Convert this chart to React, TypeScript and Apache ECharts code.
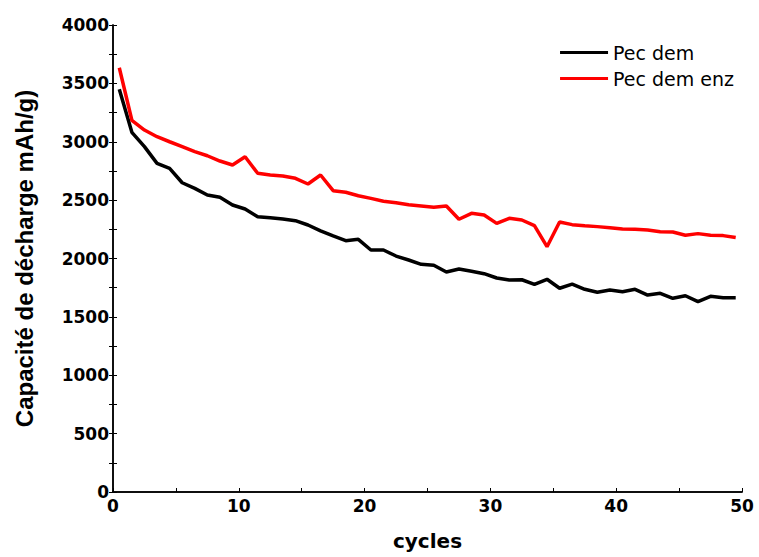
import React, { useEffect, useRef } from "react";
import * as echarts from "echarts";

const cycles: number[] = Array.from({ length: 50 }, (_, i) => i + 0.5);

const pecDem: number[] = [
  3449, 3081, 2958, 2815, 2772, 2649, 2601, 2544, 2524, 2458,
  2424, 2358, 2350, 2338, 2324, 2287, 2236, 2193, 2153, 2164,
  2073, 2073, 2021, 1987, 1950, 1942, 1884, 1910, 1890, 1870,
  1833, 1816, 1818, 1779, 1822, 1745, 1780, 1736, 1711, 1730,
  1716, 1736, 1687, 1702, 1659, 1681, 1630, 1676, 1664, 1664,
];

const pecDemEnz: number[] = [
  3634, 3184, 3100, 3043, 3000, 2958, 2915, 2880, 2835, 2801,
  2872, 2730, 2715, 2707, 2687, 2638, 2715, 2581, 2567, 2538,
  2515, 2490, 2478, 2461, 2450, 2438, 2450, 2336, 2387, 2373,
  2301, 2344, 2330, 2281, 2101, 2313, 2290, 2281, 2273, 2264,
  2253, 2250, 2244, 2230, 2227, 2199, 2213, 2199, 2196, 2180,
];

const seriesNames = ["Pec dem", "Pec dem enz"];
const WIDE = "'DejaVu Sans', sans-serif";
const ARIAL = "'Liberation Sans', Arial, sans-serif";

export default function App() {
  const ref = useRef<HTMLDivElement>(null);
  useEffect(() => {
    if (!ref.current) return;
    const chart = echarts.init(ref.current, null, { renderer: "svg" });
    const axisLine = { show: true, lineStyle: { color: "#000", width: 1.5 } };
    const tick = { show: true, inside: true, length: 4, lineStyle: { color: "#000", width: 1 } };
    chart.setOption({
      animation: false,
      grid: { left: 113, right: 17, top: 25, bottom: 65, show: false },
      legend: {
        orient: "vertical",
        right: 20,
        top: 38,
        itemWidth: 48,
        itemHeight: 3,
        itemGap: 7,
        icon: "rect",
        textStyle: { fontSize: 19, fontFamily: WIDE, color: "#000" },
        data: seriesNames,
      },
      xAxis: [
        {
          type: "value",
          min: 0,
          max: 50,
          interval: 5,
          name: "cycles",
          nameLocation: "middle",
          nameGap: 39,
          nameTextStyle: { fontSize: 20, fontWeight: "bold", fontFamily: WIDE, color: "#000" },
          axisLine,
          axisTick: tick,
          axisLabel: {
            fontSize: 17,
            fontWeight: "bold",
            fontFamily: WIDE,
            color: "#000",
            margin: 5,
            formatter: (v: number) => (v % 10 === 0 ? String(v) : ""),
          },
          splitLine: { show: false },
        },
        {
          type: "value",
          position: "top",
          min: 0,
          max: 50,
          interval: 5,
          axisLine,
          axisTick: { show: false },
          axisLabel: { show: false },
          splitLine: { show: false },
        },
      ],
      yAxis: [
        {
          type: "value",
          min: 0,
          max: 4000,
          interval: 250,
          name: "Capacité de décharge mAh/g)",
          nameLocation: "middle",
          nameGap: 77,
          nameTextStyle: { fontSize: 24, fontWeight: "bold", fontFamily: ARIAL, color: "#000" },
          axisLine,
          axisTick: tick,
          axisLabel: {
            fontSize: 17,
            fontWeight: "bold",
            fontFamily: WIDE,
            color: "#000",
            margin: 4,
            formatter: (v: number) => (v % 500 === 0 ? String(v) : ""),
          },
          splitLine: { show: false },
        },
        {
          type: "value",
          position: "right",
          min: 0,
          max: 4000,
          interval: 250,
          axisLine,
          axisTick: tick,
          axisLabel: { show: false },
          splitLine: { show: false },
        },
      ],
      series: [
        {
          name: seriesNames[0],
          type: "line",
          data: cycles.map((c, i) => [c, pecDem[i]]),
          showSymbol: false,
          symbol: "none",
          lineStyle: { color: "#000", width: 3.5 },
          itemStyle: { color: "#000" },
        },
        {
          name: seriesNames[1],
          type: "line",
          data: cycles.map((c, i) => [c, pecDemEnz[i]]),
          showSymbol: false,
          symbol: "none",
          lineStyle: { color: "#ff0000", width: 3.5 },
          itemStyle: { color: "#ff0000" },
        },
      ],
    });
    return () => chart.dispose();
  }, []);
  return <div ref={ref} style={{ width: 759, height: 557, position: "absolute", left: 0, top: 0 }} />;
}
